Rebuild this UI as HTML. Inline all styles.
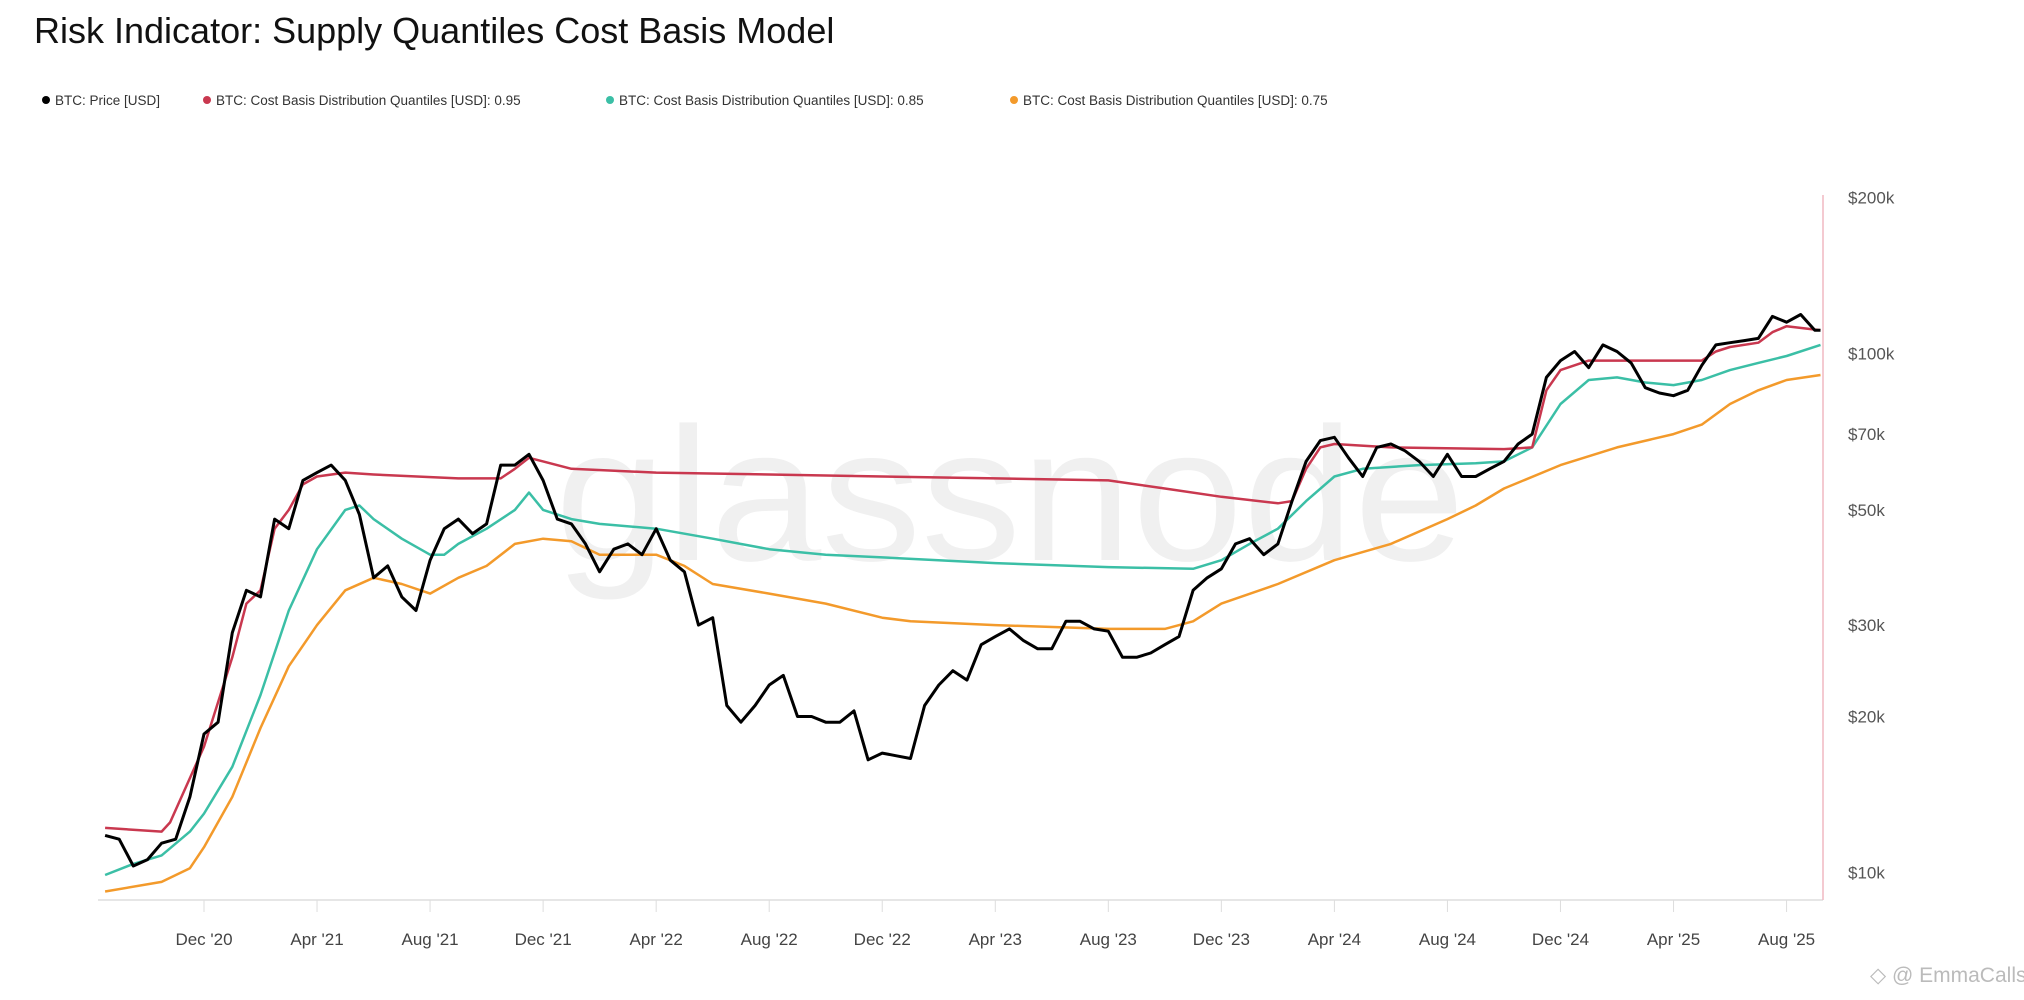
<!DOCTYPE html>
<html><head><meta charset="utf-8"><style>
body{margin:0;background:#fff;width:2024px;height:1000px;overflow:hidden;font-family:"Liberation Sans",sans-serif}
#title{position:absolute;left:34px;top:10px;font-size:36px;color:#111}
.leg{position:absolute;top:93px;font-size:13.5px;color:#333;white-space:nowrap}
.dot{display:inline-block;width:8px;height:8px;border-radius:50%;margin-right:5px;vertical-align:1px}
</style></head><body>
<div id="title">Risk Indicator: Supply Quantiles Cost Basis Model</div>
<div class="leg" style="left:42px"><span class="dot" style="background:#000"></span>BTC: Price [USD]</div>
<div class="leg" style="left:203px"><span class="dot" style="background:#c9384f"></span>BTC: Cost Basis Distribution Quantiles [USD]: 0.95</div>
<div class="leg" style="left:606px"><span class="dot" style="background:#3bbfa6"></span>BTC: Cost Basis Distribution Quantiles [USD]: 0.85</div>
<div class="leg" style="left:1010px"><span class="dot" style="background:#f39a2b"></span>BTC: Cost Basis Distribution Quantiles [USD]: 0.75</div>
<svg id="chart" width="2024" height="1000" style="position:absolute;left:0;top:0"></svg>
<script>
const xLabels=["Dec '20","Apr '21","Aug '21","Dec '21","Apr '22","Aug '22","Dec '22","Apr '23","Aug '23","Dec '23","Apr '24","Aug '24","Dec '24","Apr '25","Aug '25"];
const xTickMonths=[0,4,8,12,16,20,24,28,32,36,40,44,48,52,56];
const yTicks=[10000,20000,30000,50000,70000,100000,200000];
const yLabels=["$10k","$20k","$30k","$50k","$70k","$100k","$200k"];
// months since Dec 1 2020, price in $k
const priceT=[-3.5,-3,-2.5,-2,-1.5,-1,-0.5,0,0.5,1,1.5,2,2.5,3,3.5,4,4.5,5,5.5,6,6.5,7,7.5,8,8.5,9,9.5,10,10.5,11,11.5,12,12.5,13,13.5,14,14.5,15,15.5,16,16.5,17,17.5,18,18.5,19,19.5,20,20.5,21,21.5,22,22.5,23,23.5,24,24.5,25,25.5,26,26.5,27,27.5,28,28.5,29,29.5,30,30.5,31,31.5,32,32.5,33,33.5,34,34.5,35,35.5,36,36.5,37,37.5,38,38.5,39,39.5,40,40.5,41,41.5,42,42.5,43,43.5,44,44.5,45,45.5,46,46.5,47,47.5,48,48.5,49,49.5,50,50.5,51,51.5,52,52.5,53,53.5,54,54.5,55,55.5,56,56.5,57,57.2];
const priceV=[11.8,11.6,10.3,10.6,11.4,11.6,14,18.5,19.5,29,35,34,48,46,57,59,61,57,49,37,39,34,32,40,46,48,45,47,61,61,64,57,48,47,43,38,42,43,41,46,40,38,30,31,21,19.5,21,23,24,20,20,19.5,19.5,20.5,16.5,17,16.8,16.6,21,23,24.5,23.5,27.5,28.5,29.5,28,27,27,30.5,30.5,29.5,29.2,26,26,26.5,27.5,28.5,35,37,38.5,43,44,41,43,52,62,68,69,63,58,66,67,65,62,58,64,58,58,60,62,67,70,90,97,101,94,104,101,96,86,84,83,85,95,104,105,106,107,118,115,119,111,111];
const q95T=[-3.5,-1.5,-1.2,0,1,1.5,2,2.5,3,3.5,4,5,6,9,10.5,11,11.5,12,13,16,20,24,28,32,34,36,38,38.5,39,39.5,40,42,46,47,47.5,48,49,52,53,53.5,54,55,55.5,56,57.2];
const q95V=[12.2,12.0,12.5,17.5,26,33,35,46,50,56,58,59,58.5,57.5,57.5,60,63,62,60,59,58.5,58,57.5,57,55,53,51.5,52,60,66,67,66,65.5,66,85,93,97,97,97,101,103,105,110,113,111];
const q85T=[-3.5,-2.5,-1.5,-0.5,0,1,2,3,4,5,5.5,6,7,8,8.5,9,10,11,11.5,12,13,14,16,18,20,22,24,28,32,35,36,37,38,39,40,41,43,45,46,47,48,49,50,51,52,53,54,55,56,57.2];
const q85V=[9.9,10.4,10.8,12,13,16,22,32,42,50,51,48,44,41,41,43,46,50,54,50,48,47,46,44,42,41,40.5,39.5,38.8,38.5,40,43,46,52,58,60,61,61.5,62,66,80,89,90,88,87,89,93,96,99,104];
const q75T=[-3.5,-1.5,-0.5,0,1,2,3,4,5,6,7,8,9,10,11,12,13,14,16,17,18,20,22,24,25,28,32,34,35,36,38,40,42,44,45,46,48,50,52,53,54,55,56,57.2];
const q75V=[9.2,9.6,10.2,11.2,14,19,25,30,35,37,36,34.5,37,39,43,44,43.5,41,41,39,36,34.5,33,31,30.5,30,29.5,29.5,30.5,33,36,40,43,48,51,55,61,66,70,73,80,85,89,91];

const NS="http://www.w3.org/2000/svg";
const svg=document.getElementById('chart');
const L=98,R=1823,B=900;
const xS=t=>204+28.26*t;
const yS=v=>353.7-519*Math.log10(v/100);
function mk(tag,attrs){const e=document.createElementNS(NS,tag);for(const k in attrs)e.setAttribute(k,attrs[k]);svg.appendChild(e);return e;}

const wm=mk('text',{x:1010,y:560,'text-anchor':'middle','font-size':190,fill:'#f0f0f0','font-family':'Liberation Sans, sans-serif','textLength':910,'lengthAdjust':'spacingAndGlyphs'});
wm.textContent='glassnode';



const ax=mk('line',{x1:L,x2:R,y1:B,y2:B,stroke:'#e6e6e6','stroke-width':2});


const ra=mk('line',{x1:R,x2:R,y1:195,y2:B,stroke:'#f0b8c2','stroke-width':1.5});



xTickMonths.forEach((m,i)=>{
  const x=xS(m);
  const tk=mk('line',{x1:x,x2:x,y1:B,y2:B+12,stroke:'#ddd','stroke-width':1});
  
  
  const t=mk('text',{x:x,y:B+45,'text-anchor':'middle','font-size':17,fill:'#444'});
  t.textContent=xLabels[i];
  
  
});
yTicks.forEach((v,i)=>{
  const t=mk('text',{x:1848,y:yS(v/1000)+6,'font-size':17,fill:'#555'});
  t.textContent=yLabels[i];
  
  
});
function series(T,V,color,w,name){
  const d=T.map((t,i)=>(i?'L':'M')+xS(t).toFixed(1)+','+yS(V[i]).toFixed(1)).join('');
  const p=mk('path',{d:d,fill:'none',stroke:color,'stroke-width':w,'stroke-linejoin':'round'});
  
  
}
series(q75T,q75V,'#f39a2b',2.5,'q75-line');
series(q85T,q85V,'#3bbfa6',2.5,'q85-line');
series(q95T,q95V,'#c9384f',2.5,'q95-line');
series(priceT,priceV,'#000',3,'price-line');

const at=mk('text',{x:1870,y:982,'font-size':21,fill:'#bbb'});
at.textContent='◇ @ EmmaCalls';


</script>
</body></html>
